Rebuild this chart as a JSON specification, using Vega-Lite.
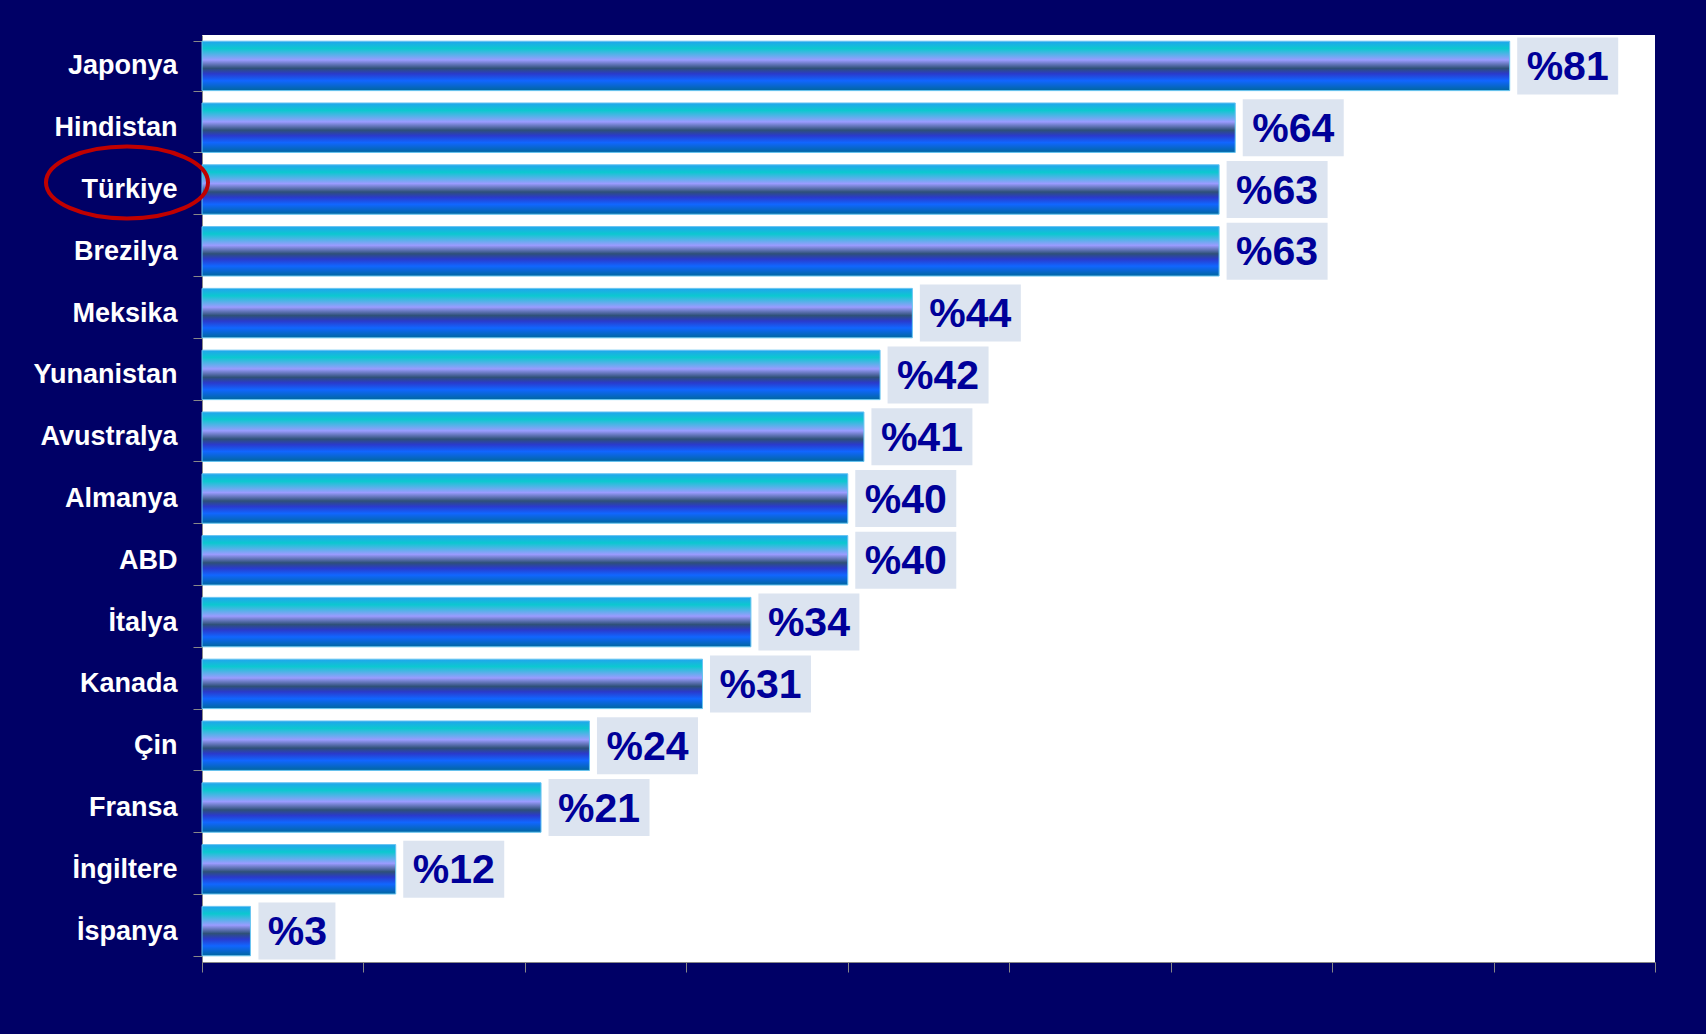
{
  "$schema": "https://vega.github.io/schema/vega-lite/v6.json",
  "width": 1453,
  "height": 927,
  "autosize": {"type": "none"},
  "padding": {"left": 202, "top": 35, "right": 51, "bottom": 72},
  "background": "#000066",
  "config": {"view": {"fill": "white", "stroke": null}},
  "data": {
    "values": [
      {"country": "Japonya", "value": 81, "label": "%81"},
      {"country": "Hindistan", "value": 64, "label": "%64"},
      {"country": "Türkiye", "value": 63, "label": "%63"},
      {"country": "Brezilya", "value": 63, "label": "%63"},
      {"country": "Meksika", "value": 44, "label": "%44"},
      {"country": "Yunanistan", "value": 42, "label": "%42"},
      {"country": "Avustralya", "value": 41, "label": "%41"},
      {"country": "Almanya", "value": 40, "label": "%40"},
      {"country": "ABD", "value": 40, "label": "%40"},
      {"country": "İtalya", "value": 34, "label": "%34"},
      {"country": "Kanada", "value": 31, "label": "%31"},
      {"country": "Çin", "value": 24, "label": "%24"},
      {"country": "Fransa", "value": 21, "label": "%21"},
      {"country": "İngiltere", "value": 12, "label": "%12"},
      {"country": "İspanya", "value": 3, "label": "%3"}
    ]
  },
  "encoding": {
    "y": {
      "field": "country",
      "type": "nominal",
      "sort": null,
      "scale": {"paddingInner": 0.2, "paddingOuter": 0.1},
      "axis": {
        "title": null,
        "tickBand": "extent",
        "tickSize": 9,
        "tickColor": "#888888",
        "domainColor": "#888888",
        "labelColor": "white",
        "labelFont": "Liberation Sans, Arial, sans-serif",
        "labelFontWeight": "bold",
        "labelFontSize": 27,
        "labelPadding": 16
      }
    }
  },
  "layer": [
    {
      "mark": {
        "type": "bar",
        "stroke": "#66c4f0",
        "strokeWidth": 1,
        "color": {
          "gradient": "linear",
          "x1": 0, "y1": 0, "x2": 0, "y2": 1,
          "stops": [
            {"offset": 0, "color": "#22a4ee"},
            {"offset": 0.15, "color": "#0cc8d0"},
            {"offset": 0.38, "color": "#9a9cff"},
            {"offset": 0.55, "color": "#2e5078"},
            {"offset": 0.66, "color": "#2a3acc"},
            {"offset": 0.8, "color": "#1166ff"},
            {"offset": 1, "color": "#0066a0"}
          ]
        }
      },
      "encoding": {
        "x": {
          "field": "value",
          "type": "quantitative",
          "scale": {"domain": [0, 90], "nice": false},
          "axis": {
            "title": null,
            "labels": false,
            "grid": false,
            "values": [0, 10, 20, 30, 40, 50, 60, 70, 80, 90],
            "tickSize": 10,
            "tickColor": "#888888",
            "domainColor": "#888888"
          }
        }
      }
    },
    {
      "transform": [{"filter": "datum.value >= 10"}],
      "mark": {"type": "bar", "height": 57, "color": "#dce4f0", "xOffset": 7.5, "x2Offset": 108.5},
      "encoding": {
        "x": {"field": "value", "type": "quantitative"},
        "x2": {"field": "value"}
      }
    },
    {
      "transform": [{"filter": "datum.value < 10"}],
      "mark": {"type": "bar", "height": 57, "color": "#dce4f0", "xOffset": 8, "x2Offset": 85},
      "encoding": {
        "x": {"field": "value", "type": "quantitative"},
        "x2": {"field": "value"}
      }
    },
    {
      "transform": [{"filter": "datum.value >= 10"}],
      "mark": {
        "type": "text",
        "align": "center",
        "baseline": "middle",
        "xOffset": 58,
        "dy": 2,
        "font": "Liberation Sans, Arial, sans-serif",
        "fontWeight": "bold",
        "fontSize": 41,
        "color": "#000099"
      },
      "encoding": {
        "x": {"field": "value", "type": "quantitative"},
        "text": {"field": "label"}
      }
    },
    {
      "transform": [{"filter": "datum.value < 10"}],
      "mark": {
        "type": "text",
        "align": "center",
        "baseline": "middle",
        "xOffset": 47,
        "dy": 2,
        "font": "Liberation Sans, Arial, sans-serif",
        "fontWeight": "bold",
        "fontSize": 41,
        "color": "#000099"
      },
      "encoding": {
        "x": {"field": "value", "type": "quantitative"},
        "text": {"field": "label"}
      }
    },
    {
      "transform": [{"filter": "datum.country == 'Türkiye'"}],
      "mark": {
        "type": "point",
        "shape": "M -1 0 A 1 0.444 0 1 1 1 0 A 1 0.444 0 1 1 -1 0 Z",
        "size": 26244,
        "filled": false,
        "stroke": "#c00000",
        "strokeWidth": 4,
        "opacity": 1,
        "xOffset": -75,
        "yOffset": -7,
        "clip": false
      },
      "encoding": {
        "x": {"datum": 0, "type": "quantitative"}
      }
    }
  ]
}
